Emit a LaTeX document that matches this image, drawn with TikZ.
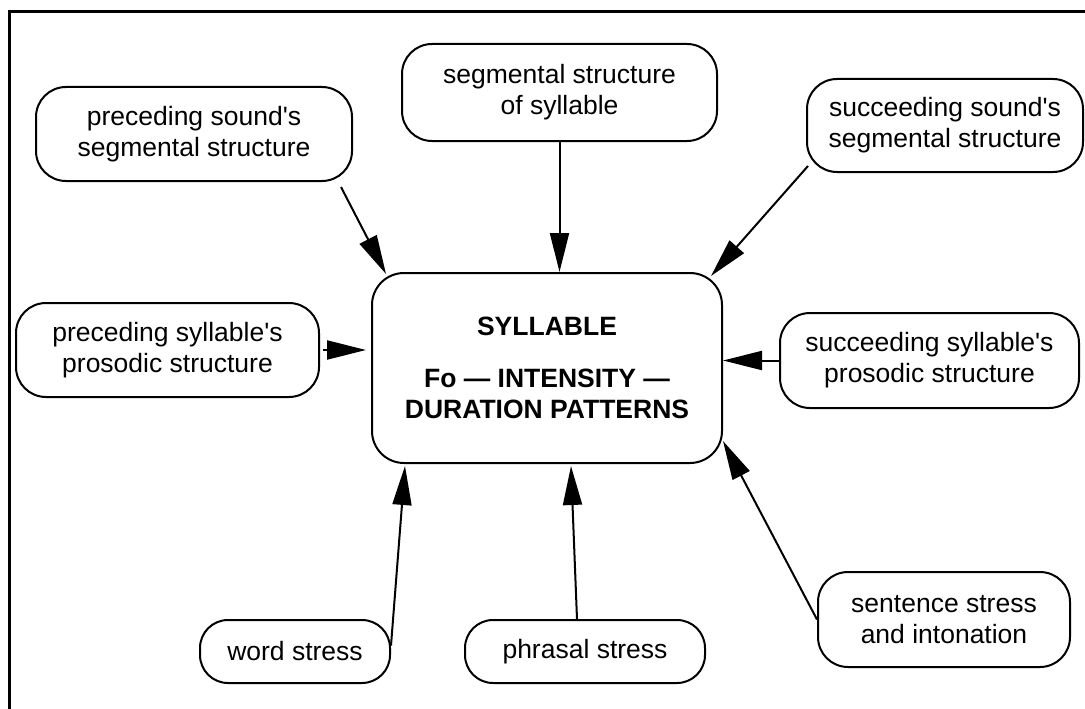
\documentclass[tikz,border=0pt]{standalone}
\usepackage{fontspec}
\setmainfont{Liberation Sans}
\usetikzlibrary{arrows.meta}
\begin{document}
\begin{tikzpicture}[x=1pt,y=-1pt,
  box/.style={draw, line width=2pt, rounded corners=30pt, align=center, inner sep=0pt,
    font=\fontsize{26.5}{31}\selectfont},
  arr/.style={line width=2pt, -{Triangle[length=39pt,width=19pt]}}]
\useasboundingbox (0,0) rectangle (1085,709);
\draw[line width=3pt] (9.5,712) -- (9.5,12) -- (1090,12);
\node[box, minimum width=316pt, minimum height=94pt] (psound) at (194,134) {preceding sound\textquotesingle s\\segmental structure};
\node[box, minimum width=315pt, minimum height=97pt] (segsyl) at (559.5,92.5) {segmental structure\\of syllable};
\node[box, minimum width=276pt, minimum height=93pt] (ssound) at (945,125.5) {succeeding sound\textquotesingle s\\segmental structure};
\node[box, minimum width=303pt, minimum height=94pt] (psyll) at (167.5,350) {preceding syllable\textquotesingle s\\prosodic structure};
\node[box, minimum width=350pt, minimum height=190pt, rounded corners=32pt, font=\fontsize{26.5}{31}\selectfont\bfseries] (main) at (547,368) {SYLLABLE\\[21pt]Fo — INTENSITY —\\DURATION PATTERNS};
\node[box, minimum width=299pt, minimum height=95pt] (ssyll) at (929.5,360.5) {succeeding syllable\textquotesingle s\\prosodic structure};
\node[box, minimum width=190pt, minimum height=63pt, rounded corners=28pt] (word) at (295,651.5) {word stress};
\node[box, minimum width=240pt, minimum height=63pt, rounded corners=28pt] (phrasal) at (585,651.5) {phrasal stress};
\node[box, minimum width=252pt, minimum height=95pt] (sent) at (944,619.5) {sentence stress\\and intonation};
\draw[arr] ([shift={(-12,5)}]psound.south east) -- ([shift={(15,2)}]main.north west);
\draw[arr] (segsyl.south) -- (segsyl.south |- main.north);
\draw[arr] ([shift={(2,-7)}]ssound.south west) -- ([shift={(-12,4)}]main.north east);
\draw[arr] ([xshift=3pt]psyll.east) -- ([xshift=-5pt]psyll.east -| main.west);
\draw[arr] (ssyll.west) -- (ssyll.west -| main.east);
\draw[arr] ([shift={(0,-6)}]word.east) -- ([shift={(34,2)}]main.south west);
\draw[arr] ([shift={(-8,0)}]phrasal.north) -- ([shift={(24,2)}]main.south);
\draw[arr] (sent.west) -- ([shift={(0,-23)}]main.south east);
\end{tikzpicture}
\end{document}
